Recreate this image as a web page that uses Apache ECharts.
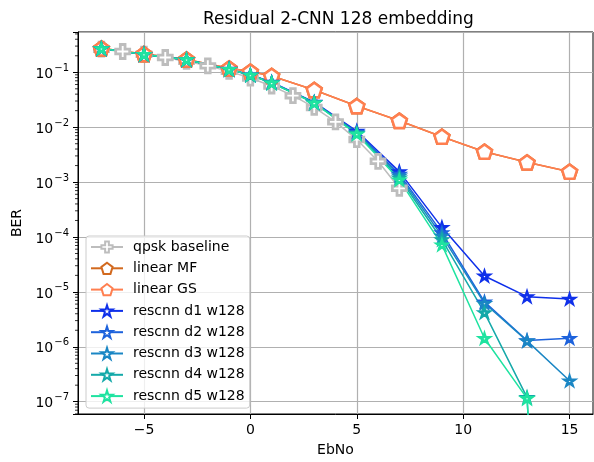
<!DOCTYPE html>
<html><head><meta charset="utf-8">
<script src="https://cdn.jsdelivr.net/npm/echarts@6/dist/echarts.min.js"></script>
<style>html,body{margin:0;padding:0;background:#fff}#c{width:594px;height:462px}</style>
</head><body><div id="c"></div>
<script>
// ---- data ----
const ebno = [-7, -5, -3, -1, 0, 1, 3, 5, 7, 9, 11, 13, 15];
const ebnoBaseline = [-7, -6, -5, -4, -3, -2, -1, 0, 1, 2, 3, 4, 5, 6, 7];
const berBaseline = [0.264, 0.239, 0.213, 0.186, 0.158, 0.131, 0.104, 0.0786, 0.0563, 0.0375, 0.0229, 0.0125, 0.00595, 0.00239, 0.00077];
const berLinearMF = [0.273, 0.215, 0.172, 0.118, 0.103, 0.0857, 0.0476, 0.0243, 0.0131, 0.00671, 0.00358, 0.00229, 0.00155];
const berLinearGS = [0.273, 0.215, 0.172, 0.118, 0.103, 0.0857, 0.0476, 0.0243, 0.0131, 0.00671, 0.00358, 0.00229, 0.00155];
// 1e-20 stands for "no bit errors counted" (drops off the bottom of the log axis)
const berD1 = [0.27, 0.212, 0.17, 0.114, 0.09, 0.066, 0.0285, 0.0085, 0.00155, 1.5e-4, 1.95e-5, 8.2e-6, 7.4e-6];
const berD2 = [0.27, 0.212, 0.17, 0.113, 0.089, 0.065, 0.028, 0.0081, 0.0014, 1.2e-4, 6.6e-6, 1.3e-6, 1.43e-6];
const berD3 = [0.27, 0.212, 0.17, 0.113, 0.089, 0.065, 0.028, 0.0079, 0.0013, 1.05e-4, 6.2e-6, 1.28e-6, 2.4e-7];
const berD4 = [0.27, 0.212, 0.17, 0.113, 0.089, 0.064, 0.0278, 0.0077, 0.0012, 9.0e-5, 4.2e-6, 1.2e-7, 1e-20];
const berD5 = [0.27, 0.212, 0.17, 0.113, 0.089, 0.064, 0.0276, 0.0075, 0.0011, 7.2e-5, 1.43e-6, 1.15e-7, 1e-20];
const seriesNames = ['qpsk baseline', 'linear MF', 'linear GS', 'rescnn d1 w128', 'rescnn d2 w128', 'rescnn d3 w128', 'rescnn d4 w128', 'rescnn d5 w128'];
const xTicks = [-5, 0, 5, 10, 15];
const xMin = -8.1, xMax = 16.1;
const yMin = 5.97e-8, yMax = 0.542;

// ---- styling ----
const FONT = 'DejaVu Sans';
const STAR = 'path://M100 0 L122.45 69.1 L195.1 69.1 L136.33 111.8 L158.78 180.9 L100 138.2 L41.22 180.9 L63.67 111.8 L4.9 69.1 L77.55 69.1 Z';
const PENT = 'path://M100 0 L195.1 69.1 L158.8 180.9 L41.2 180.9 L4.9 69.1 Z';
const PLUS = 'path://M2 0 H4 V2 H6 V4 H4 V6 H2 V4 H0 V2 H2 Z';
const cGray = '#bdbdbd', cMF = '#d2691e', cGS = '#ff7f50';
const cD = ['#0f30ea', '#1d62dc', '#1a86c4', '#14a9a9', '#1ee3a0'];

function pairs(xs, ys) { return xs.map((x, i) => [x, ys[i]]); }

function mkSeries(name, xs, ys, color, symbol, size, bw, lw) {
  return {
    name, type: 'line', data: pairs(xs, ys),
    symbol, symbolSize: size, symbolKeepAspect: true, showSymbol: true,
    lineStyle: { color, width: lw },
    itemStyle: { color: '#ffffff', borderColor: color, borderWidth: bw },
    emphasis: { disabled: true }, clip: true, animation: false
  };
}

// minor tick positions on the log axis
const minorVals = [];
for (let e = -8; e <= -1; e++) for (let k = 2; k <= 9; k++) {
  const v = k * Math.pow(10, e);
  if (v > yMin && v < yMax) minorVals.push([xMin, v]);
}

const chart = echarts.init(document.getElementById('c'), null, { renderer: 'canvas' });
chart.setOption({
  animation: false,
  backgroundColor: '#fff',
  title: {
    text: 'Residual 2-CNN 128 embedding', left: 198, top: 6,
    textStyle: { fontFamily: FONT, fontSize: 17, fontWeight: 'normal', color: '#000' }
  },
  grid: { left: 78, right: 1, top: 32, bottom: 48, show: true, borderColor: '#000', borderWidth: 1, backgroundColor: 'transparent' },
  legend: {
    data: seriesNames, orient: 'vertical', left: 86, top: 236,
    itemWidth: 32, itemHeight: 14, itemGap: 7.3,
    padding: [4, 5, 5, 4],
    backgroundColor: 'rgba(255,255,255,0.8)', borderColor: '#cccccc', borderWidth: 1, borderRadius: 3,
    textStyle: { fontFamily: FONT, fontSize: 14, color: '#000', padding: [0, 0, 0, 5] },
    selectedMode: false
  },
  xAxis: {
    type: 'value', min: xMin, max: xMax,
    name: 'EbNo', nameLocation: 'middle', nameGap: 29,
    nameTextStyle: { fontFamily: FONT, fontSize: 14, color: '#000' },
    axisLine: { show: true, onZero: false, lineStyle: { color: '#000', width: 1 } },
    axisTick: { show: true, length: 5, inside: false, customValues: xTicks, lineStyle: { color: '#000', width: 1 } },
    axisLabel: { customValues: xTicks, margin: 9, fontFamily: FONT, fontSize: 14, color: '#000',
      formatter: v => String(v).replace('-', '\u2212') },
    splitLine: { show: true, lineStyle: { color: '#b0b0b0', width: 1.2 } }
  },
  yAxis: {
    type: 'log', min: yMin, max: yMax, logBase: 10,
    name: 'BER', nameLocation: 'middle', nameGap: 52, nameRotate: 90,
    nameTextStyle: { fontFamily: FONT, fontSize: 14, color: '#000' },
    axisLine: { show: true, onZero: false, lineStyle: { color: '#000', width: 1 } },
    axisTick: { show: true, length: 5, lineStyle: { color: '#000', width: 1 } },
    axisLabel: {
      margin: 9, fontFamily: FONT, color: '#000',
      formatter: function (v) {
        const e = Math.log10(v);
        if (Math.abs(e - Math.round(e)) > 1e-6) return '';
        return '{b|10}{s|' + String(Math.round(e)).replace('-', '\u2212') + '}';
      },
      rich: {
        b: { fontFamily: FONT, fontSize: 14, color: '#000', verticalAlign: 'bottom', lineHeight: 18 },
        s: { fontFamily: FONT, fontSize: 10, color: '#000', verticalAlign: 'top', lineHeight: 18, padding: [0, 0, 6, 1] }
      }
    },
    splitLine: { show: true, lineStyle: { color: '#b0b0b0', width: 1.2 } }
  },
  series: [
    mkSeries(seriesNames[0], ebnoBaseline, berBaseline, cGray, PLUS, 14, 2.8, 1.5),
    mkSeries(seriesNames[1], ebno, berLinearMF, cMF, PENT, 15, 2.5, 1.5),
    mkSeries(seriesNames[2], ebno, berLinearGS, cGS, PENT, 15, 2.5, 1.5),
    mkSeries(seriesNames[3], ebno, berD1, cD[0], STAR, 10, 2.5, 1.5),
    mkSeries(seriesNames[4], ebno, berD2, cD[1], STAR, 10, 2.5, 1.5),
    mkSeries(seriesNames[5], ebno, berD3, cD[2], STAR, 10, 2.5, 1.5),
    mkSeries(seriesNames[6], ebno, berD4, cD[3], STAR, 10, 2.5, 1.5),
    mkSeries(seriesNames[7], ebno, berD5, cD[4], STAR, 10, 2.5, 1.5),
    {
      name: 'minor-ticks', type: 'custom', data: minorVals, silent: true, clip: false, z: 10,
      renderItem: function (params, api) {
        const p = api.coord([api.value(0), api.value(1)]);
        return { type: 'line', shape: { x1: p[0] - 3, y1: p[1], x2: p[0], y2: p[1] }, style: { stroke: '#000', lineWidth: 0.8 } };
      }
    }
  ]
});
</script></body></html>
